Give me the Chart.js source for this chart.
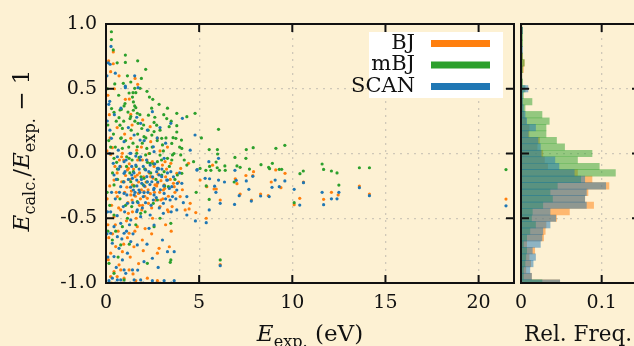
<!DOCTYPE html>
<html>
<head>
<meta charset="utf-8">
<script src="https://cdn.jsdelivr.net/npm/chart.js@4.4.1/dist/chart.umd.min.js"></script>
<style>
    html, body { margin: 0; padding: 0; background: #fdf1d3; overflow: hidden; }
    #wrap { position: relative; width: 634px; height: 346px; overflow: hidden; }
    #wrap canvas { position: absolute; left: 0; top: 0; }
</style>
</head>
<body>
<div id="wrap">
    <canvas id="scatterChart" width="634" height="346"></canvas>
    <canvas id="histChart" width="640" height="346"></canvas>
</div>
<script>
// series names (legend order)
const seriesNames = ['BJ', 'mBJ', 'SCAN'];

// [E_exp (eV), E_calc/E_exp - 1]
const bjPoints = [
    [0.39,0.784],[0.14,0.716],[0.39,0.693],[0.25,0.632],[1.56,0.58],[1.70,0.534],[1.04,0.418],
    [1.33,0.302],[1.97,0.259],[2.37,0.207],[0.34,0.045],[0.25,-0.007],[1.33,0.117],[2.4,0.091],[2.76,0.117],
    [0.88,0.001],[1.95,-0.05],[2.49,-0.063],[3.03,-0.089],[3.48,-0.076],[4.01,-0.115],[0.79,-0.102],[1.15,-0.127],
    [1.68,-0.166],[2.4,-0.179],[3.12,-0.243],[0.97,-0.218],[0.43,-0.205],[1.42,-0.243],[2.04,-0.295],[2.76,-0.23],
    [3.66,-0.256],[0.61,-0.333],[1.33,-0.32],[2.22,-0.346],[2.94,-0.359],[3.30,-0.436],[0.79,-0.436],[0.43,-0.488],
    [1.68,-0.565],[1.24,-0.616],[1.95,-0.668],[2.85,-0.732],[2.76,-0.77],[0.52,-0.719],[0.88,-0.758],[0.25,-0.77],
    [0.70,-0.86],[1.24,-0.899],[0.79,-0.899],[0.43,-0.912],[2.22,-0.963],[0.97,-0.963],[0.25,-0.95],[1.6,-0.982],
    [2.76,-0.982],[0.48,-0.1],[1.2,-0.115],[1.56,-0.179],[2.1,-0.256],[2.63,-0.243],[3.08,-0.282],[3.62,-0.23],
    [3.98,-0.333],[0.84,-0.218],[1.74,-0.308],[2.28,-0.385],[2.9,-0.41],[3.35,-0.449],[4.25,-0.436],[4.52,-0.385],
    [1.2,-0.462],[1.92,-0.436],[3.8,-0.153],[4.43,-0.076],[1.65,0.026],[0.84,-0.025],[3.17,-0.063],[5.05,-0.205],
    [5.41,-0.256],[5.72,-0.09],[6.94,-0.195],[7.03,-0.233],[7.92,-0.14],[7.88,-0.17],[7.51,-0.17],[9.11,-0.127],
    [9.61,-0.153],[8.87,-0.22],[9.39,-0.264],[7.2,-0.313],[8.3,-0.313],[8.71,-0.326],[7.81,-0.359],[6.13,-0.359],
    [5.8,-0.274],[5.92,-0.274],[5.38,-0.5],[4.82,-0.456],[4.46,-0.428],[6.13,-0.858],[10.1,-0.395],[10.4,-0.346],
    [11.68,-0.354],[12.1,-0.3],[12.46,-0.32],[13.6,-0.251],[14.14,-0.313],[21.47,-0.352],[10.6,-0.22],
    [0.05,0.02],[0.1,-0.55],[0.12,-0.82],[0.06,-0.35],[0.3,-1.0],[0.9,-1.0],[1.9,-1.0],[2.9,-1.0],
    [1.0,-0.3],[1.4,-0.36],[1.8,-0.4],[2.1,-0.12],[2.6,-0.3],[3.2,-0.18],[1.1,-0.52],[0.65,-0.6],
    [1.5,-0.72],[2.5,-0.5],[3.5,-0.6],[3.4,-0.72],
    [0.95,-0.05],[1.05,-0.17],[1.12,-0.26],[1.18,-0.38],[1.25,-0.08],[1.3,-0.2],[1.36,-0.29],[1.42,-0.45],
    [1.48,-0.12],[1.52,-0.25],[1.58,-0.33],[1.62,-0.5],[1.7,-0.05],[1.75,-0.22],[1.8,-0.15],[1.85,-0.35],
    [1.9,-0.28],[1.96,-0.4],[2.02,-0.18],[2.08,-0.33],[2.15,-0.22],[2.2,-0.05],[2.26,-0.28],[2.32,-0.15],
    [2.38,-0.31],[2.45,-0.42],[2.52,-0.19],[2.58,-0.1],[2.66,-0.36],[2.72,-0.25],[2.8,-0.16],[2.88,-0.3],
    [2.95,-0.21],[3.05,-0.35],[3.15,-0.27],[3.25,-0.12],[3.35,-0.33],[3.45,-0.2],[3.55,-0.41],[3.7,-0.3],
    [3.9,-0.22],[4.1,-0.28],[0.55,-0.3],[0.6,-0.15],[0.68,-0.42],[0.72,-0.05],[0.5,-0.55],[0.35,-0.62],
    [0.3,-0.4],[0.2,-0.25],[0.18,0.3],[0.22,0.12],[0.6,0.2],[1.0,0.15],[1.4,0.22],[1.9,0.05],
    [2.3,0.0],[2.9,0.02],[3.3,0.05],[1.15,-0.65],[1.55,-0.6],[1.3,-0.8],[0.95,-0.7],[2.1,-0.58],
    [2.45,-0.62],[3.2,-0.55],[1.75,-0.85],[0.6,-0.95],[1.45,-0.93],[2.0,-0.75],[0.15,-0.65],[0.1,0.45],
    [0.45,0.5],[0.7,0.6],[1.25,0.42]
];
const mbjPoints = [
    [0.29,0.94],[0.29,0.88],[0.39,0.80],[1.04,0.76],[1.04,0.703],[1.70,0.716],[2.13,0.65],[0.47,0.537],
    [0.93,0.542],[1.33,0.552],[1.54,0.503],[1.83,0.503],[1.24,0.467],[1.45,0.47],[1.6,0.47],[1.42,0.436],
    [2.33,0.436],[2.51,0.418],[1.47,0.398],[0.97,0.367],[1.54,0.367],[0.82,0.34],[0.43,0.318],[0.75,0.336],
    [1.6,0.354],[0.70,0.277],[1.33,0.285],[1.68,0.311],[1.72,0.233],[2.58,0.24],[3.39,0.207],[3.8,0.215],
    [3.6,0.122],[3.75,0.117],[4.05,0.104],[3.30,-0.037],[0.61,-0.12],[0.43,-0.037],[0.57,-0.068],[1.24,-0.037],
    [2.22,-0.068],[2.76,-0.063],[3.03,0.066],[2.13,-0.011],[3.57,-0.011],[4.01,-0.011],[0.79,0.117],[0.88,0.194],
    [2.04,0.13],[2.58,0.169],[1.68,0.052],[0.88,0.04],[0.43,-0.243],[1.33,-0.218],[2.04,-0.192],[3.12,-0.14],
    [3.83,-0.166],[0.43,-0.475],[0.88,-0.565],[1.15,-0.5],[1.86,-0.462],[2.58,-0.565],[0.34,-0.668],[0.79,-0.706],
    [2.22,-0.848],[3.48,-0.822],[3.48,-0.539],[0.16,-0.848],[2.76,-0.359],[1.68,-0.372],[0.97,-0.976],[0.43,-0.925],
    [0.3,0.347],[1.02,0.386],[1.47,0.334],[2.28,0.296],[2.72,0.219],[3.26,0.27],[3.8,0.166],[1.29,0.27],
    [0.75,0.219],[1.92,0.193],[2.46,0.142],[2.99,0.117],[3.53,0.078],[4.07,0.039],[2.19,0.039],[1.65,0.001],
    [2.9,-0.012],[1.11,-0.025],[3.53,-0.05],[2.37,-0.076],[4.34,-0.089],[1.47,-0.14],[2.99,-0.166],[4.07,-0.153],
    [0.93,-0.218],[2.0,-0.243],[3.35,-0.256],[4.7,-0.063],[5.05,-0.115],[2.54,-0.385],[1.38,-0.41],
    [3.8,0.31],[4.34,0.284],[4.78,0.31],[6.04,0.187],[5.12,0.12],[5.54,0.03],[5.98,0.03],[5.99,-0.004],
    [7.53,0.03],[7.9,0.045],[9.12,0.04],[9.6,0.063],[6.92,-0.03],[7.51,-0.037],[5.91,-0.066],[6.38,-0.096],
    [7.03,-0.096],[7.2,-0.107],[8.32,-0.086],[8.93,-0.076],[8.73,-0.107],[8.78,-0.117],[9.30,-0.122],[9.43,-0.122],
    [7.7,-0.12],[5.36,-0.13],[5.63,-0.13],[6.09,-0.13],[6.4,-0.13],[5.56,-0.1],[5.97,-0.11],[4.84,-0.30],
    [5.54,-0.355],[5.38,-0.25],[6.88,-0.22],[6.13,-0.822],[10.1,-0.38],[10.41,-0.156],[10.59,-0.135],
    [11.6,-0.081],[11.68,-0.123],[12.1,-0.135],[12.4,-0.15],[12.5,-0.244],[13.6,-0.11],[14.14,-0.11],[21.47,-0.124],
    [0.08,0.5],[0.1,0.22],[0.06,-0.3],[0.1,-0.6],[0.15,0.1],[3.45,-0.84],
    [0.95,0.25],[1.05,0.1],[1.1,-0.1],[1.18,0.32],[1.22,0.05],[1.28,-0.15],[1.35,0.18],[1.4,-0.05],
    [1.45,0.08],[1.5,-0.25],[1.55,0.25],[1.62,-0.1],[1.7,0.15],[1.78,-0.03],[1.82,0.3],[1.88,-0.18],
    [1.95,0.08],[2.02,0.22],[2.08,-0.12],[2.14,0.12],[2.2,-0.22],[2.26,0.18],[2.34,0.0],[2.4,-0.15],
    [2.48,0.05],[2.55,-0.08],[2.62,0.28],[2.68,-0.2],[2.75,0.1],[2.82,-0.12],[2.9,0.18],[2.98,-0.05],
    [3.08,0.02],[3.15,-0.25],[3.22,0.12],[3.3,0.35],[3.4,-0.1],[3.5,0.25],[3.65,0.0],[3.7,-0.2],
    [3.95,0.05],[4.2,-0.05],[0.5,0.05],[0.55,0.25],[0.62,-0.2],[0.68,0.45],[0.75,-0.35],[0.82,0.12],
    [0.4,0.15],[0.35,-0.15],[0.25,0.05],[0.2,-0.4],[0.52,-0.6],[1.05,-0.4],[1.6,-0.55],[2.1,-0.45],
    [2.9,-0.5],[1.25,-0.7],[0.65,-0.8],[1.9,0.58],[2.2,0.48],[1.15,0.6],[0.6,0.7],[2.45,0.35],
    [2.85,0.38],[3.1,0.3]
];
const scanPoints = [
    [0.27,0.827],[0.22,0.689],[1.54,0.6],[1.04,0.52],[1.04,0.508],[1.72,0.508],[0.2,0.403],
    [0.07,0.251],[0.21,0.18],[0.29,0.117],[2.49,0.323],[1.86,0.233],[2.22,0.181],[1.51,0.143],[0.97,0.091],
    [3.48,0.233],[4.1,0.272],[1.33,0.001],[1.86,-0.025],[2.58,0.014],[3.12,-0.037],[0.97,-0.063],[1.6,-0.089],
    [2.13,-0.127],[2.76,-0.115],[3.48,-0.14],[0.97,-0.153],[1.42,-0.192],[2.22,-0.218],[2.85,-0.166],[3.3,-0.205],
    [3.83,-0.23],[0.79,-0.256],[1.77,-0.282],[2.58,-0.269],[0.43,-0.166],[0.61,-0.025],
    [0.97,-0.308],[1.51,-0.32],[2.04,-0.302],[2.58,-0.32],[3.12,-0.308],[3.57,-0.333],[1.15,-0.385],[1.68,-0.436],
    [1.86,-0.488],[1.33,-0.513],[0.79,-0.539],[0.43,-0.565],[0.25,-0.616],[0.61,-0.642],[0.97,-0.616],[1.33,-0.68],
    [1.68,-0.706],[0.34,-0.693],[0.70,-0.732],[0.43,-0.796],[0.88,-0.822],[1.15,-0.77],[2.58,-0.552],[3.03,-0.668],
    [3.30,-0.758],[3.66,-0.758],[2.31,-0.578],[2.04,-0.835],[2.49,-0.809],[0.97,-0.899],[1.42,-0.899],[1.06,-0.925],
    [0.79,-0.976],[0.34,-0.963],[1.51,-0.976],[0.16,-0.982],[0.61,-0.976],[1.86,-0.976],[3.12,-0.982],[3.66,-0.982],
    [2.49,-0.982],[0.39,-0.076],[0.75,-0.1],[1.02,-0.14],[1.38,-0.166],[1.65,-0.205],[1.92,-0.23],[2.19,-0.179],
    [2.46,-0.218],[2.72,-0.14],[2.99,-0.179],[3.26,-0.205],[3.53,-0.256],[3.8,-0.282],[4.07,-0.23],[4.34,-0.333],
    [1.47,-0.282],[2.0,-0.333],[2.54,-0.359],[3.08,-0.385],[3.44,-0.359],[0.93,-0.41],[1.65,-0.449],[2.37,-0.475],
    [3.08,-0.462],[3.8,-0.436],[4.34,-0.475],[2.37,-0.089],[1.83,-0.05],[2.81,-0.115],[1.29,0.001],[0.66,0.026],
    [2.54,0.052],[1.83,0.104],[4.52,0.026],[4.88,-0.128],[5.32,-0.192],[6.04,-0.205],
    [4.78,0.143],[4.89,-0.125],[5.56,-0.195],[5.83,-0.252],[5.9,-0.3],[5.54,-0.436],[5.38,-0.534],[4.8,-0.521],
    [6.13,-0.385],[6.9,-0.393],[7.15,-0.326],[7.8,-0.367],[8.3,-0.328],[8.76,-0.333],[7.67,-0.277],[7.53,-0.212],
    [6.99,-0.207],[7.88,-0.176],[6.92,-0.13],[6.36,-0.22],[9.08,-0.205],[8.91,-0.261],[9.3,-0.256],[9.6,-0.212],
    [10.1,-0.277],[10.4,-0.398],[6.13,-0.866],[5.52,-0.063],[6.04,-0.037],
    [11.6,-0.3],[11.68,-0.395],[12.1,-0.35],[12.4,-0.35],[12.5,-0.3],[13.6,-0.264],[14.14,-0.326],[21.47,-0.404],
    [10.6,-0.225],[0.05,-0.62],[0.1,-0.8],[0.05,0.6],[0.08,-0.45],[1.0,-1.0],[2.0,-1.0],[3.5,-1.0],[0.5,-1.0],
    [0.95,-0.22],[1.0,-0.45],[1.08,-0.05],[1.12,-0.32],[1.2,-0.2],[1.26,-0.55],[1.32,-0.26],[1.38,-0.1],
    [1.44,-0.38],[1.5,-0.15],[1.56,-0.3],[1.6,-0.02],[1.66,-0.25],[1.72,-0.38],[1.78,-0.12],[1.82,-0.3],
    [1.9,-0.2],[1.95,-0.42],[2.0,-0.1],[2.06,-0.25],[2.12,-0.38],[2.18,-0.05],[2.25,-0.3],[2.3,-0.14],
    [2.36,-0.24],[2.42,-0.4],[2.5,-0.18],[2.56,-0.28],[2.62,-0.08],[2.7,-0.34],[2.78,-0.22],[2.86,-0.42],
    [2.92,-0.28],[3.0,-0.12],[3.1,-0.25],[3.2,-0.35],[3.3,-0.15],[3.4,-0.27],[3.5,-0.45],[3.62,-0.18],
    [3.75,-0.35],[3.95,-0.15],[4.15,-0.38],[0.5,-0.35],[0.55,-0.2],[0.6,-0.48],[0.68,-0.12],[0.72,-0.3],
    [0.3,-0.3],[0.25,-0.45],[0.2,0.0],[0.15,0.38],[0.45,0.3],[0.8,0.35],[1.2,0.2],[1.65,0.28],
    [2.05,0.1],[2.75,0.12],[3.2,0.08],[1.1,-0.6],[1.45,-0.62],[0.85,-0.66],[2.2,-0.7],[1.7,-0.9],
    [2.8,-0.88],[0.55,-0.88],[1.3,-1.0],[0.2,-1.0],[2.7,-1.0],[0.12,0.7],[0.5,0.62],[2.9,0.2]
];

// histogram: bin centres and relative frequencies
const binCenters = [
    -1.00, -0.95, -0.90, -0.85, -0.80, -0.75, -0.70, -0.65, -0.60, -0.55, -0.50,
    -0.45, -0.40, -0.35, -0.30, -0.25, -0.20, -0.15, -0.10, -0.05, 0.00,
    0.05, 0.10, 0.15, 0.20, 0.25, 0.30, 0.35, 0.40, 0.45, 0.50,
    0.55, 0.60, 0.65, 0.70, 0.75, 0.80, 0.85, 0.90, 0.95, 1.00
];
const bjFreq = [
    0.048, 0.013, 0.006, 0.012, 0.010, 0.017, 0.007, 0.028, 0.030, 0.031, 0.044,
    0.060, 0.090, 0.079, 0.083, 0.109, 0.088, 0.070, 0.033, 0.029, 0.027,
    0.020, 0.023, 0.010, 0.010, 0.006, 0.003, 0.002, 0.002, 0.001, 0.002,
    0.001, 0.001, 0.003, 0.004, 0.002, 0.001, 0.001, 0.001, 0.002, 0.001
];
const mbjFreq = [
    0.026, 0.003, 0.003, 0.005, 0.006, 0.007, 0.003, 0.007, 0.011, 0.018, 0.013,
    0.014, 0.027, 0.039, 0.036, 0.045, 0.074, 0.117, 0.097, 0.070, 0.088,
    0.054, 0.044, 0.031, 0.031, 0.035, 0.026, 0.005, 0.0136, 0.003, 0.005,
    0.002, 0.001, 0.002, 0.004, 0.002, 0.001, 0.002, 0.002, 0.002, 0.001
];
const scanFreq = [
    0.048, 0.013, 0.011, 0.015, 0.018, 0.014, 0.024, 0.026, 0.027, 0.036, 0.043,
    0.036, 0.081, 0.079, 0.081, 0.105, 0.079, 0.066, 0.047, 0.042, 0.025,
    0.024, 0.021, 0.009, 0.018, 0.007, 0.005, 0.003, 0.002, 0.002, 0.0086,
    0.001, 0.001, 0.001, 0.001, 0.001, 0.002, 0.001, 0.001, 0.002, 0.001
];

// axis ticks
const yTicks = [-1, -0.5, 0, 0.5, 1];
const xTicks = [0, 5, 10, 15, 20];
const freqTicks = [0, 0.1];

const seriesColors = { BJ: '#ff7f0e', mBJ: '#2ca02c', SCAN: '#1f77b4' };
const seriesAlpha = { BJ: 'rgba(255,127,14,0.5)', mBJ: 'rgba(44,160,44,0.5)', SCAN: 'rgba(31,119,180,0.5)' };
const drawOrder = { BJ: 3, mBJ: 2, SCAN: 1 };

const SERIF = '"DejaVu Serif", "Liberation Serif", serif';
const GRID = 'rgba(150,150,150,0.45)';

function drawRich(ctx, parts, cx, baseline, size) {
    const sub = size * 0.7;
    const fontOf = p => (p.italic ? 'italic ' : '') + (p.sub ? sub : size) + 'px ' + SERIF;
    let total = 0;
    const widths = parts.map(p => {
        ctx.font = fontOf(p);
        const w = ctx.measureText(p.t).width;
        total += w;
        return w;
    });
    let x = cx - total / 2;
    ctx.textAlign = 'left';
    ctx.textBaseline = 'alphabetic';
    ctx.fillStyle = '#111';
    parts.forEach((p, i) => {
        ctx.font = fontOf(p);
        ctx.fillText(p.t, x, baseline + (p.sub ? size * 0.24 : 0));
        x += widths[i];
    });
}

// black frame plus inward ticks on all four sides
const framePlugin = {
    id: 'frame',
    afterDatasetsDraw(chart) {
        const { ctx, chartArea: a, scales: { x, y } } = chart;
        ctx.save();
        ctx.strokeStyle = '#111';
        ctx.lineWidth = 2;
        const seg = (x1, y1, x2, y2) => { ctx.beginPath(); ctx.moveTo(x1, y1); ctx.lineTo(x2, y2); ctx.stroke(); };
        x.ticks.forEach(t => {
            const px = x.getPixelForValue(t.value);
            seg(px, a.bottom, px, a.bottom - 8);
            seg(px, a.top, px, a.top + 8);
        });
        y.ticks.forEach(t => {
            const py = y.getPixelForValue(t.value);
            seg(a.left, py, a.left + 8, py);
            seg(a.right, py, a.right - 8, py);
        });
        ctx.strokeRect(a.left, a.top, a.right - a.left, a.bottom - a.top);
        ctx.restore();
    }
};

const scatterDecor = {
    id: 'scatterDecor',
    afterDraw(chart) {
        const { ctx, chartArea: a } = chart;
        ctx.save();
        // legend
        const bx = a.right - 145, by = a.top + 8;
        ctx.fillStyle = '#ffffff';
        ctx.fillRect(bx, by, 134, 66);
        chart.data.datasets.forEach((ds, i) => {
            const cy = by + 11.5 + i * 21.5;
            ctx.fillStyle = seriesColors[ds.label];
            ctx.fillRect(bx + 62, cy - 3.5, 59, 7);
            ctx.fillStyle = '#111';
            ctx.font = '21px ' + SERIF;
            ctx.textAlign = 'right';
            ctx.textBaseline = 'alphabetic';
            ctx.fillText(ds.label, bx + 46, cy + 5);
        });
        // x title
        drawRich(ctx, [
            { t: 'E', italic: true }, { t: 'exp.', sub: true }, { t: ' (eV)' }
        ], (a.left + a.right) / 2, 341, 23);
        // y title
        ctx.translate(29, (a.top + a.bottom) / 2 - 3);
        ctx.rotate(-Math.PI / 2);
        drawRich(ctx, [
            { t: 'E', italic: true }, { t: 'calc.', sub: true }, { t: '/' },
            { t: 'E', italic: true }, { t: 'exp.', sub: true }, { t: ' \u2212 1' }
        ], 0, 0, 23);
        ctx.restore();
    }
};

const histDecor = {
    id: 'histDecor',
    afterDraw(chart) {
        const { ctx, chartArea: a } = chart;
        ctx.save();
        drawRich(ctx, [{ t: 'Rel. Freq.' }], a.left + 57, 341, 21.5);
        ctx.restore();
    }
};

document.addEventListener('DOMContentLoaded', () => {
    const pointSets = { BJ: bjPoints, mBJ: mbjPoints, SCAN: scanPoints };
    const freqSets = { BJ: bjFreq, mBJ: mbjFreq, SCAN: scanFreq };

    const tickFont = { family: SERIF, size: 19 };

    new Chart(document.getElementById('scatterChart'), {
        type: 'scatter',
        data: {
            datasets: seriesNames.map(name => ({
                label: name,
                data: pointSets[name].map(p => ({ x: p[0], y: p[1] })),
                backgroundColor: seriesColors[name],
                borderWidth: 0,
                pointRadius: 1.6,
                order: drawOrder[name],
                clip: 0
            }))
        },
        options: {
            responsive: false,
            animation: false,
            layout: { padding: { top: 24, right: 120, left: 0, bottom: 0 } },
            plugins: { legend: { display: false }, tooltip: { enabled: false } },
            scales: {
                x: {
                    type: 'linear', min: 0, max: 21.9,
                    afterFit: s => { s.height = 63; },
                    afterBuildTicks: s => { s.ticks = xTicks.map(v => ({ value: v })); },
                    ticks: { color: '#111', font: tickFont, padding: 9, maxRotation: 0, callback: v => String(v) },
                    grid: { color: GRID, lineWidth: 1.3, drawTicks: false, borderDash: [2, 5] },
                    border: { display: false, dash: [2, 5] }
                },
                y: {
                    type: 'linear', min: -1, max: 1,
                    afterFit: s => { s.width = 106; },
                    afterBuildTicks: s => { s.ticks = yTicks.map(v => ({ value: v })); },
                    ticks: { color: '#111', font: tickFont, padding: 9, callback: v => v.toFixed(1) },
                    grid: { color: GRID, lineWidth: 1.3, drawTicks: false, borderDash: [2, 5] },
                    border: { display: false, dash: [2, 5] }
                }
            }
        },
        plugins: [framePlugin, scatterDecor]
    });

    new Chart(document.getElementById('histChart'), {
        type: 'bar',
        data: {
            datasets: seriesNames.map(name => ({
                label: name,
                data: binCenters.map((c, i) => ({ x: freqSets[name][i], y: c })),
                backgroundColor: seriesAlpha[name],
                borderWidth: 0,
                grouped: false,
                barPercentage: 1,
                categoryPercentage: 1,
                order: drawOrder[name]
            }))
        },
        options: {
            indexAxis: 'y',
            responsive: false,
            animation: false,
            layout: { padding: { top: 24, right: 0, left: 0, bottom: 0 } },
            plugins: { legend: { display: false }, tooltip: { enabled: false } },
            scales: {
                x: {
                    type: 'linear', min: 0, max: 0.1475,
                    afterFit: s => { s.height = 63; },
                    afterBuildTicks: s => { s.ticks = freqTicks.map(v => ({ value: v })); },
                    ticks: { color: '#111', font: tickFont, padding: 9, maxRotation: 0, callback: v => (v === 0 ? '0' : v.toFixed(1)) },
                    grid: { color: GRID, lineWidth: 1.3, drawTicks: false, borderDash: [2, 5] },
                    border: { display: false, dash: [2, 5] }
                },
                y: {
                    type: 'linear', min: -1, max: 1, offset: false,
                    afterFit: s => { s.width = 521; },
                    afterBuildTicks: s => { s.ticks = yTicks.map(v => ({ value: v })); },
                    ticks: { display: false },
                    grid: { color: GRID, lineWidth: 1.3, drawTicks: false, offset: false, borderDash: [2, 5] },
                    border: { display: false, dash: [2, 5] }
                }
            }
        },
        plugins: [framePlugin, histDecor]
    });
});
</script>
</body>
</html>
